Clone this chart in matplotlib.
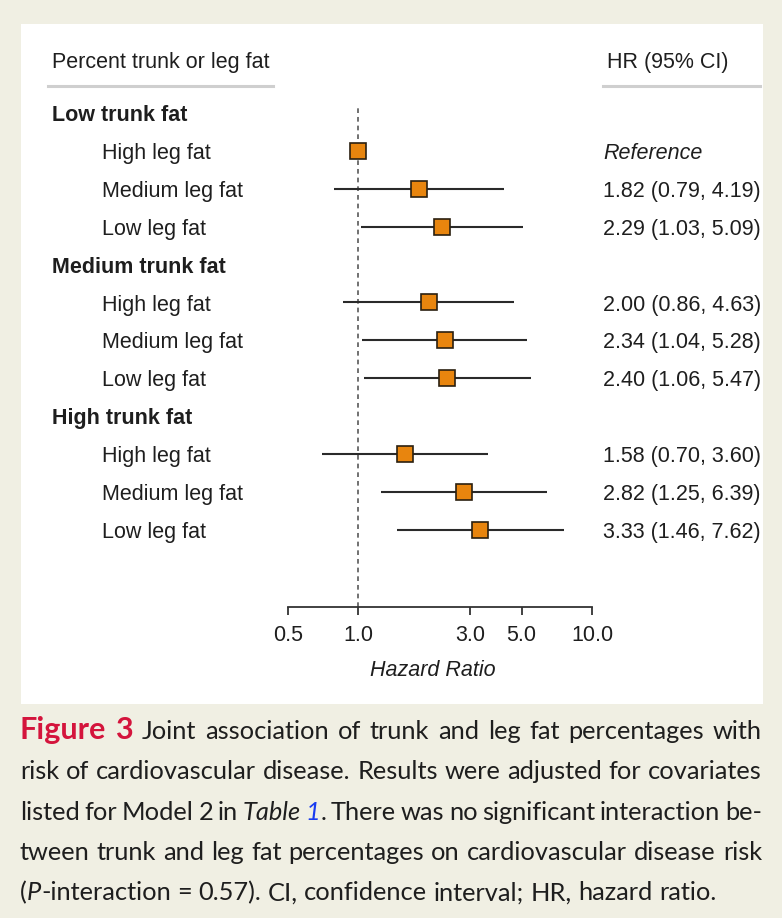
import numpy as np
import matplotlib
matplotlib.use('Agg')
import matplotlib.pyplot as plt
from matplotlib.lines import Line2D
from matplotlib.patches import Rectangle
import matplotlib.transforms as mtransforms

# Données
groups = ['Low trunk fat', 'Medium trunk fat', 'High trunk fat']
subgroups = ['High leg fat', 'Medium leg fat', 'Low leg fat']
hr = [1.00, 1.82, 2.29, 2.00, 2.34, 2.40, 1.58, 2.82, 3.33]
ci_lo = [np.nan, 0.79, 1.03, 0.86, 1.04, 1.06, 0.70, 1.25, 1.46]
ci_hi = [np.nan, 4.19, 5.09, 4.63, 5.28, 5.47, 3.60, 6.39, 7.62]
ticks = [0.5, 1.0, 3.0, 5.0, 10.0]
tick_labels = ['0.5', '1.0', '3.0', '5.0', '10.0']

W, H = 782, 918
BG = '#f0efe3'
ORANGE = '#e8850e'
TXT = '#1e1e1e'
FONT = 'Liberation Sans'
FS = 15.5

plt.rcParams['font.family'] = FONT

fig = plt.figure(figsize=(W / 100, H / 100), dpi=100, facecolor=BG)


def px(x, y):
    return x / W, 1 - y / H


# panneau blanc
fig.patches.append(Rectangle(px(21, 704), (763 - 21) / W, (704 - 24) / H,
                             transform=fig.transFigure, facecolor='white',
                             edgecolor='none', zorder=-5))

# axe du forest plot
row0, step = 113, 37.9
y_axis, y_top = 607, 95
ax = fig.add_axes([288 / W, 1 - y_axis / H, (592 - 288) / W, (y_axis - y_top) / H])
ax.set_zorder(2)
ax.patch.set_visible(False)
ax.set_xscale('log')
ax.set_xlim(0.5, 10)
ax.set_ylim((y_axis - row0) / step, (y_top - row0) / step)
for s in ['top', 'right', 'left']:
    ax.spines[s].set_visible(False)
ax.spines['bottom'].set_color('#333333')
ax.spines['bottom'].set_linewidth(1.3)
ax.set_yticks([])
ax.set_xticks(ticks)
ax.set_xticklabels(tick_labels)
ax.minorticks_off()
ax.tick_params(axis='x', direction='out', length=6, width=1.3, color='#333333',
               labelsize=FS, labelcolor=TXT, pad=7)
ax.set_xlabel('Hazard Ratio', fontsize=15.5, style='italic', color=TXT)
ax.xaxis.set_label_coords(0.475, -0.104)

ax.axvline(1.0, ymin=0, ymax=(y_axis - 108) / (y_axis - y_top), color='#666666',
           linestyle=(0, (2.6, 2.2)), linewidth=1.3, zorder=1)

trans = mtransforms.blended_transform_factory(fig.transFigure, ax.transData)
dy = 2.5 / step  # décalage du texte vers le bas

pos = 0
k = 0
for g in groups:
    ax.text(52 / W, pos + dy, g, transform=trans, fontsize=FS, fontweight='bold',
            color=TXT, va='center', ha='left', clip_on=False)
    pos += 1
    for sg in subgroups:
        ax.text(102 / W, pos + dy, sg, transform=trans, fontsize=FS, color=TXT,
                va='center', ha='left', clip_on=False)
        if np.isnan(ci_lo[k]):
            lab = 'Reference'
            st = 'italic'
        else:
            lab = f'{hr[k]:.2f} ({ci_lo[k]:.2f}, {ci_hi[k]:.2f})'
            st = 'normal'
            ax.plot([ci_lo[k], ci_hi[k]], [pos, pos], color='#2a2a2a', lw=1.5,
                    zorder=2, solid_capstyle='butt')
        ax.plot(hr[k], pos, marker='s', markersize=11.5, markerfacecolor=ORANGE,
                markeredgecolor='#2b2010', markeredgewidth=1.2, zorder=3)
        ax.text(603 / W, pos + dy, lab, transform=trans, fontsize=FS, color=TXT,
                style=st, va='center', ha='left', clip_on=False)
        pos += 1
        k += 1

# en-têtes
fig.text(*px(52, 62.5), 'Percent trunk or leg fat', fontsize=FS, color=TXT, va='center')
fig.text(*px(607, 62.5), 'HR (95% CI)', fontsize=FS, color=TXT, va='center')
for x0, x1 in [(48, 273), (603, 760)]:
    fig.add_artist(Line2D([x0 / W, x1 / W], [1 - 86 / H, 1 - 86 / H],
                          transform=fig.transFigure, color='#cfcfcf', lw=2.2))

# légende justifiée
CAP = 'Lato'
CFS = 18.3
RED = '#d4143c'
renderer = fig.canvas.get_renderer()

cap_lines = [
    [[('Figure', dict(fontweight='bold', color=RED, fontsize=22))],
     [('3', dict(fontweight='bold', color=RED, fontsize=22))]] +
    [[(w, {})] for w in 'Joint association of trunk and leg fat percentages with'.split()],
    [[(w, {})] for w in 'risk of cardiovascular disease. Results were adjusted for covariates'.split()],
    [[(w, {})] for w in 'listed for Model 2 in'.split()] +
    [[('Table', dict(style='italic'))], [('1', dict(style='italic', color='#1a3cf0')), ('.', {})]] +
    [[(w, {})] for w in 'There was no significant interaction be-'.split()],
    [[(w, {})] for w in 'tween trunk and leg fat percentages on cardiovascular disease risk'.split()],
    [[('(', {}), ('P', dict(style='italic')), ('-interaction', {})]] +
    [[(w, {})] for w in '= 0.57). CI, confidence interval; HR, hazard ratio.'.split()],
]


def measure(s, kw):
    t = fig.text(0, 0, s, fontfamily=CAP, fontsize=kw.get('fontsize', CFS),
                 fontweight=kw.get('fontweight', 'normal'), style=kw.get('style', 'normal'))
    w = t.get_window_extent(renderer).width if s else 0
    t.remove()
    return w


space = measure('x x', {}) - measure('xx', {})
x_left, x_right = 20, 762
for i, words in enumerate(cap_lines):
    widths = [sum(measure(s, kw) for s, kw in w) for w in words]
    if i < len(cap_lines) - 1:
        gap = (x_right - x_left - sum(widths)) / (len(words) - 1)
    else:
        gap = space
    yb = 739 + 40.3 * i
    x = x_left
    for j, (w, wd) in enumerate(zip(words, widths)):
        xx = x
        for s, kw in w:
            kw2 = dict(fontfamily=CAP, fontsize=CFS, color=TXT)
            kw2.update(kw)
            fig.text(*px(xx, yb), s, va='baseline', ha='left', **kw2)
            xx += measure(s, kw)
        x += wd + gap

fig.savefig('out.png', dpi=100, facecolor=BG)
